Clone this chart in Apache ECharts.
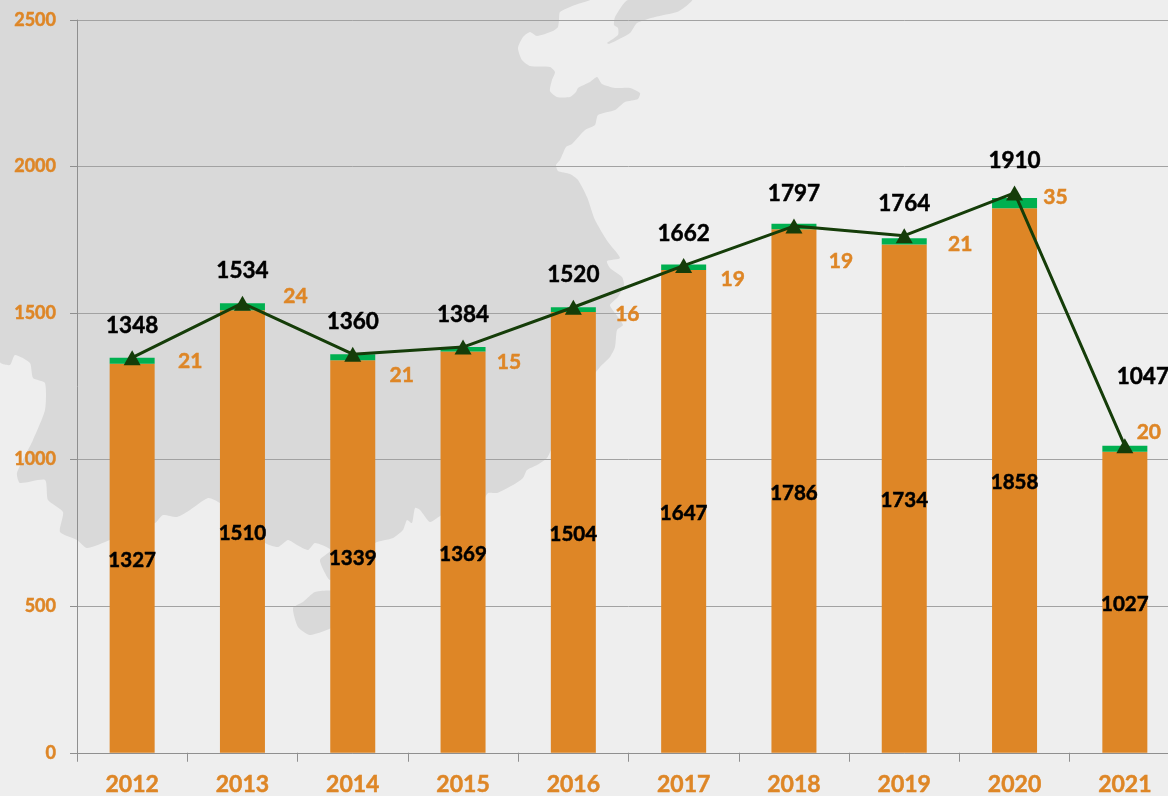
<!DOCTYPE html>
<html>
<head>
<meta charset="utf-8">
<title>chart</title>
<style>
  html, body { margin: 0; padding: 0; background: #eeeeee; overflow: hidden; }
  /* last category runs past the window edge in the original, so the canvas does too */
  #chart { width: 1180px; height: 796px; }
</style>
</head>
<body>
<div id="chart"></div>
<script src="https://cdn.jsdelivr.net/npm/echarts@6/dist/echarts.min.js"></script>
<script>
const years = ['2012', '2013', '2014', '2015', '2016', '2017', '2018', '2019', '2020', '2021']
const orangeValues = [1327, 1510, 1339, 1369, 1504, 1647, 1786, 1734, 1858, 1027]
const greenValues = [21, 24, 21, 15, 16, 19, 19, 21, 35, 20]
const totalValues = [1348, 1534, 1360, 1384, 1520, 1662, 1797, 1764, 1910, 1047]
const yTicks = { min: 0, max: 2500, interval: 500 }

// the small orange numbers sit loose next to their bars in the original
const greenLabelOffsets = [[58, 1], [53, -10], [49, 18], [46, 13], [54, 5], [49, 12], [47, 35], [56, 3], [41, -6], [24, -17]]

const ORANGE = '#de8626'
const GREEN = '#00b050'
const DARK = '#153d09'
const AXIS = '#8f8f8f'
const GRIDLINE = '#a2a2a2'
const FONT = 'Lato'

// backdrop map, page pixels
const mainland = [[0,0],[590,0],[575,5],[560,12],[559,20],[558,27],[553,31],[537,36],[530,32],[523,37],[518,48],[522,60],[530,66],[550,67],[555,72],[552,80],[550,91],[557,97],[570,97],[576,92],[578,88],[590,82],[597,77],[602,84],[615,88],[630,88],[640,93],[638,99],[625,102],[615,110],[598,115],[595,125],[585,130],[572,144],[566,147],[560,160],[556,165],[558,171],[570,174],[578,180],[587,197],[595,220],[608,242],[620,258],[607,261],[610,268],[622,277],[624,285],[618,297],[610,305],[615,313],[623,325],[617,330],[615,347],[610,357],[600,367],[590,380],[552,448],[547,458],[537,465],[527,470],[523,478],[513,485],[497,493],[488,493],[480,505],[442,515],[430,522],[420,510],[415,508],[412,523],[407,520],[403,530],[393,538],[375,543],[350,570],[330,580],[325,573],[320,560],[331,550],[315,543],[308,550],[297,545],[288,540],[278,547],[265,543],[240,520],[220,503],[208,498],[190,510],[177,517],[163,515],[155,523],[110,540],[87,548],[77,540],[60,532],[63,512],[48,500],[45,480],[20,483],[17,473],[33,440],[45,410],[45,383],[33,378],[30,363],[15,355],[10,365],[0,362]]
const hainan = [[293,608],[298,627],[310,635],[335,625],[335,592],[315,592],[303,602]]
const korea = [[628,0],[615,17],[614,25],[618,28],[618,35],[607,43],[609,44],[630,33],[637,23],[655,17],[677,12],[685,7],[692,0]]

const chart = echarts.init(document.getElementById('chart'))

function landShape(points) {
  return { type: 'polygon', z: -10, silent: true, shape: { points, smooth: 0.2 }, style: { fill: '#d9d9d9' } }
}

// Lato bold reads lighter than the original, thicken it a touch
function heavyText(color, fontSize) {
  return { color, fontSize, fontFamily: FONT, fontWeight: 'bold', textBorderColor: color, textBorderWidth: 0.5 }
}

chart.setOption({
  animation: false,
  backgroundColor: '#eeeeee',
  graphic: [landShape(mainland), landShape(hainan), landShape(korea)],
  grid: { left: 77, right: 0, top: 20, bottom: 42 },
  xAxis: {
    type: 'category',
    data: years,
    axisLine: { lineStyle: { color: AXIS, width: 1 } },
    axisTick: { show: true, length: 9, lineStyle: { color: AXIS } },
    axisLabel: { ...heavyText(ORANGE, 23), margin: 20, interval: 0 },
  },
  yAxis: {
    type: 'value',
    min: yTicks.min,
    max: yTicks.max,
    interval: yTicks.interval,
    axisLine: { show: true, lineStyle: { color: AXIS, width: 1 } },
    axisTick: { show: true, length: 7, lineStyle: { color: AXIS } },
    axisLabel: { ...heavyText(ORANGE, 18), margin: 21, formatter: (v) => String(v) },
    splitLine: { show: true, lineStyle: { color: GRIDLINE, width: 1 } },
  },
  series: [
    {
      type: 'bar', stack: 'year', barWidth: 45,
      data: orangeValues,
      itemStyle: { color: ORANGE },
      label: { show: true, position: 'inside', offset: [0, 2], ...heavyText('#000', 20.5) },
    },
    {
      type: 'bar', stack: 'year', barWidth: 45,
      data: greenValues.map((value, i) => ({
        value,
        label: { offset: greenLabelOffsets[i] },
      })),
      itemStyle: { color: GREEN },
      label: { show: true, position: 'inside', ...heavyText(ORANGE, 21) },
    },
    {
      type: 'line', z: 5,
      data: totalValues.map((value, i) => (
        i === totalValues.length - 1
          ? { value, label: { offset: [18, -37] } }
          : value
      )),
      symbol: 'triangle', symbolSize: [17, 15],
      itemStyle: { color: DARK },
      lineStyle: { color: DARK, width: 3 },
      label: { show: true, position: 'top', distance: 13, ...heavyText('#000', 22.5) },
    },
  ],
})
</script>
</body>
</html>
